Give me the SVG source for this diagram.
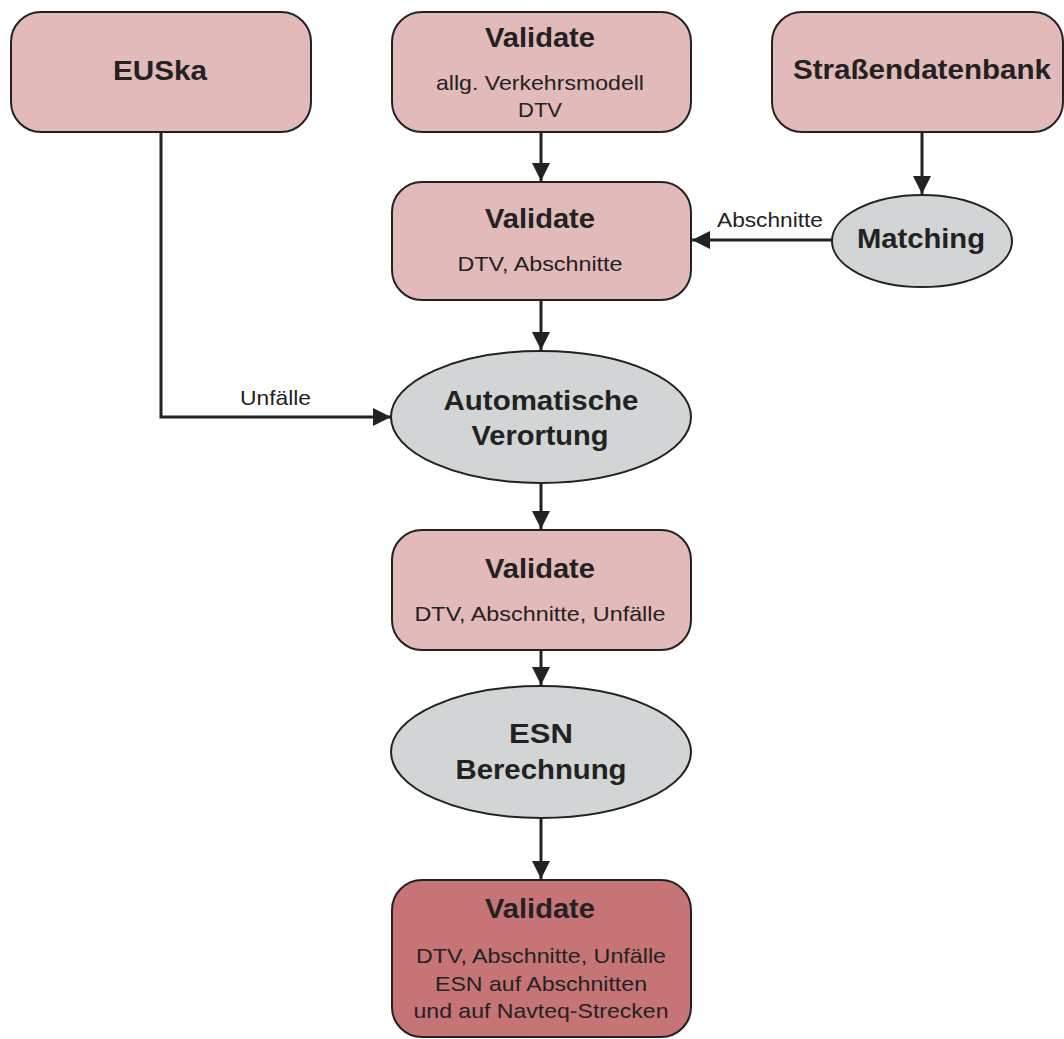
<svg xmlns="http://www.w3.org/2000/svg" width="1064" height="1039" viewBox="0 0 1064 1039">
<style>
.box{fill:#e2baba;stroke:#222;stroke-width:2}
.dark{fill:#c77477}
.ell{fill:#d1d5d6;stroke:#222;stroke-width:2}
.t{font-family:"Liberation Sans",Arial,sans-serif;font-weight:bold;font-size:28px;fill:#222;text-anchor:middle}
.s{font-family:"Liberation Sans",Arial,sans-serif;font-size:21px;fill:#222;text-anchor:middle}
.l{font-family:"Liberation Sans",Arial,sans-serif;font-size:21px;fill:#222}
.c{fill:none;stroke:#222;stroke-width:3}
</style>
<defs>
<marker id="ah" viewBox="0 0 10 10" refX="10" refY="5" markerWidth="6" markerHeight="6" markerUnits="strokeWidth" orient="auto">
<path d="M0,0 L10,5 L0,10 Z" fill="#222"/>
</marker>
</defs>
<g id="connectors">
<line class="c" x1="541" y1="132" x2="541" y2="181" marker-end="url(#ah)"/>
<line class="c" x1="922" y1="132" x2="922" y2="194" marker-end="url(#ah)"/>
<line class="c" x1="832" y1="240" x2="692" y2="240" marker-end="url(#ah)"/>
<line class="c" x1="541" y1="300" x2="541" y2="350" marker-end="url(#ah)"/>
<polyline class="c" points="161,132 161,417 391,417" marker-end="url(#ah)"/>
<line class="c" x1="541" y1="483" x2="541" y2="529" marker-end="url(#ah)"/>
<line class="c" x1="541" y1="650" x2="541" y2="685" marker-end="url(#ah)"/>
<line class="c" x1="541" y1="818" x2="541" y2="879" marker-end="url(#ah)"/>
<text class="l" x="717" y="227" textLength="106" lengthAdjust="spacingAndGlyphs">Abschnitte</text>
<text class="l" x="240" y="405" textLength="71" lengthAdjust="spacingAndGlyphs">Unfälle</text>
</g>
<g id="euska">
<rect class="box" x="11" y="12" width="300" height="120" rx="30"/>
<text class="t" x="160" y="80" textLength="94" lengthAdjust="spacingAndGlyphs">EUSka</text>
</g>
<g id="validate1">
<rect class="box" x="392" y="12" width="299" height="120" rx="30"/>
<text class="t" x="540" y="47" textLength="110" lengthAdjust="spacingAndGlyphs">Validate</text>
<text class="s" x="540" y="90" textLength="208" lengthAdjust="spacingAndGlyphs">allg. Verkehrsmodell</text>
<text class="s" x="540" y="117" textLength="44" lengthAdjust="spacingAndGlyphs">DTV</text>
</g>
<g id="strassendatenbank">
<rect class="box" x="772" y="12" width="291" height="120" rx="30"/>
<text class="t" x="922" y="79" textLength="258" lengthAdjust="spacingAndGlyphs">Straßendatenbank</text>
</g>
<g id="validate2">
<rect class="box" x="392" y="182" width="299" height="118" rx="30"/>
<text class="t" x="540" y="228" textLength="110" lengthAdjust="spacingAndGlyphs">Validate</text>
<text class="s" x="540" y="271" textLength="165" lengthAdjust="spacingAndGlyphs">DTV, Abschnitte</text>
</g>
<g id="matching">
<ellipse class="ell" cx="922" cy="241" rx="90" ry="46"/>
<text class="t" x="921" y="248" textLength="128" lengthAdjust="spacingAndGlyphs">Matching</text>
</g>
<g id="verortung">
<ellipse class="ell" cx="541" cy="417" rx="150" ry="66"/>
<text class="t" x="541" y="410" textLength="195" lengthAdjust="spacingAndGlyphs">Automatische</text>
<text class="t" x="540" y="445" textLength="137" lengthAdjust="spacingAndGlyphs">Verortung</text>
</g>
<g id="validate3">
<rect class="box" x="392" y="530" width="299" height="120" rx="30"/>
<text class="t" x="540" y="578" textLength="110" lengthAdjust="spacingAndGlyphs">Validate</text>
<text class="s" x="540" y="621" textLength="251" lengthAdjust="spacingAndGlyphs">DTV, Abschnitte, Unfälle</text>
</g>
<g id="esn">
<ellipse class="ell" cx="541" cy="752" rx="150" ry="66"/>
<text class="t" x="541" y="743" textLength="64" lengthAdjust="spacingAndGlyphs">ESN</text>
<text class="t" x="541" y="779" textLength="171" lengthAdjust="spacingAndGlyphs">Berechnung</text>
</g>
<g id="validate4">
<rect class="box dark" x="392" y="880" width="299" height="157" rx="30"/>
<text class="t" x="540" y="918" textLength="110" lengthAdjust="spacingAndGlyphs">Validate</text>
<text class="s" x="541" y="963" textLength="250" lengthAdjust="spacingAndGlyphs">DTV, Abschnitte, Unfälle</text>
<text class="s" x="541" y="991" textLength="212" lengthAdjust="spacingAndGlyphs">ESN auf Abschnitten</text>
<text class="s" x="541" y="1018" textLength="255" lengthAdjust="spacingAndGlyphs">und auf Navteq-Strecken</text>
</g>
</svg>
